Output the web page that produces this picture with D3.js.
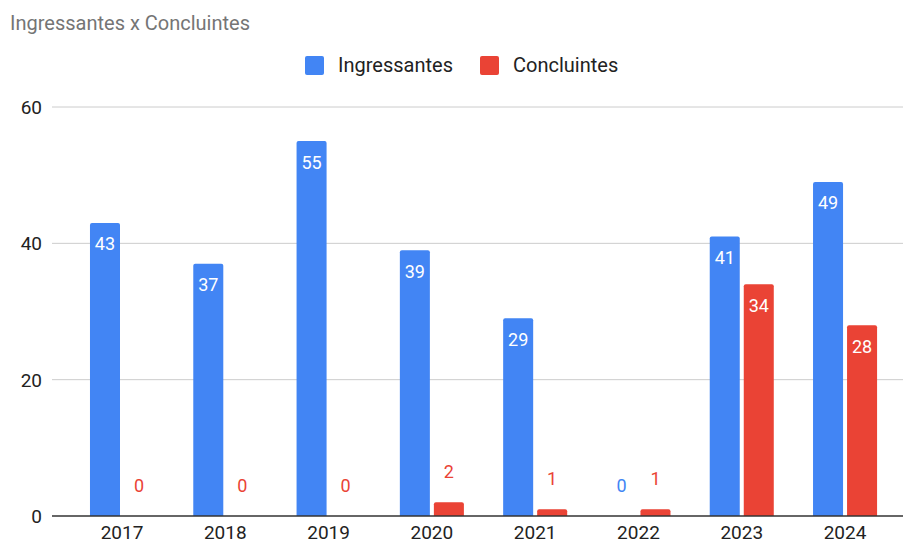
<!DOCTYPE html>
<html>
<head>
<meta charset="utf-8">
<script src="https://cdn.jsdelivr.net/npm/d3@7"></script>
<style>
body { margin: 0; background: #fff; }
text { font-family: Roboto, "Noto Sans", sans-serif; }
</style>
</head>
<body>
<div id="chart"></div>
<script>
var years = ["2017", "2018", "2019", "2020", "2021", "2022", "2023", "2024"];
var seriesNames = ["Ingressantes", "Concluintes"];
var ingressantes = [43, 37, 55, 39, 29, 0, 41, 49];
var concluintes = [0, 0, 0, 2, 1, 1, 34, 28];
var yTicks = [0, 20, 40, 60];
var colors = ["#4285f4", "#ea4335"];

var W = 903, H = 543;

var svg = d3.select("#chart").append("svg")
    .attr("width", W)
    .attr("height", H);

var y = d3.scaleLinear().domain([0, 60]).range([516, 107]);
var x0 = d3.scaleBand().domain(years).range([70.35, 896.7])
    .paddingInner(0.38).paddingOuter(0.19);
var x1 = d3.scaleBand().domain(seriesNames).range([0, x0.bandwidth()])
    .paddingInner(0.1176);

// title
svg.append("text")
    .attr("x", 10).attr("y", 30)
    .style("font-size", "20px")
    .style("fill", "#757575")
    .text("Ingressantes x Concluintes");

// legend
var legendX = [305, 480];
seriesNames.forEach(function(s, i) {
    svg.append("rect")
        .attr("x", legendX[i]).attr("y", 56)
        .attr("width", 19).attr("height", 19)
        .attr("rx", 2)
        .style("fill", colors[i]);
    svg.append("text")
        .attr("x", legendX[i] + 33).attr("y", 72)
        .style("font-size", "20px")
        .style("fill", "#222")
        .text(s);
});

// grid
svg.selectAll("line.grid")
    .data(yTicks.filter(function(d){ return d > 0; }))
    .enter()
    .append("line")
    .attr("class", "grid")
    .attr("x1", 52).attr("x2", 903)
    .attr("y1", function(d){ return y(d); })
    .attr("y2", function(d){ return y(d); })
    .style("stroke", "#cccccc")
    .style("stroke-width", 1);

svg.selectAll("text.ytick")
    .data(yTicks)
    .enter()
    .append("text")
    .attr("class", "ytick")
    .attr("x", 42)
    .attr("y", function(d){ return y(d) + 7; })
    .style("text-anchor", "end")
    .style("font-size", "19px")
    .style("fill", "#222")
    .text(function(d){ return d; });

// bars
var rows = [];
years.forEach(function(yr, i) {
    rows.push({year: yr, s: 0, v: ingressantes[i]});
    rows.push({year: yr, s: 1, v: concluintes[i]});
});

function barPath(d) {
    var bx = x0(d.year) + x1(seriesNames[d.s]);
    var bw = x1.bandwidth();
    var top = y(d.v), bot = y(0);
    var r = Math.min(2, bot - top);
    return "M" + bx + "," + bot +
        "V" + (top + r) +
        "Q" + bx + "," + top + " " + (bx + r) + "," + top +
        "H" + (bx + bw - r) +
        "Q" + (bx + bw) + "," + top + " " + (bx + bw) + "," + (top + r) +
        "V" + bot + "Z";
}

svg.selectAll("path.bar")
    .data(rows.filter(function(d){ return d.v > 0; }))
    .enter()
    .append("path")
    .attr("class", "bar")
    .attr("d", barPath)
    .style("fill", function(d){ return colors[d.s]; });

// baseline
svg.append("line")
    .attr("x1", 52).attr("x2", 903)
    .attr("y1", y(0)).attr("y2", y(0))
    .style("stroke", "#333")
    .style("stroke-width", 1.3);

// value labels
svg.selectAll("text.val")
    .data(rows)
    .enter()
    .append("text")
    .attr("class", "val")
    .attr("x", function(d){ return x0(d.year) + x1(seriesNames[d.s]) + x1.bandwidth() / 2; })
    .attr("y", function(d){
        var inside = y(0) - y(d.v) > 35;
        return inside ? y(d.v) + 27.5 : y(d.v) - 24;
    })
    .style("text-anchor", "middle")
    .style("font-size", "18px")
    .style("fill", function(d){
        return (y(0) - y(d.v) > 35) ? "#ffffff" : colors[d.s];
    })
    .text(function(d){ return d.v; });

// x labels
svg.selectAll("text.xtick")
    .data(years)
    .enter()
    .append("text")
    .attr("class", "xtick")
    .attr("x", function(d){ return x0(d) + x0.bandwidth() / 2; })
    .attr("y", 539)
    .style("text-anchor", "middle")
    .style("font-size", "19px")
    .style("fill", "#222")
    .text(function(d){ return d; });
</script>
</body>
</html>
